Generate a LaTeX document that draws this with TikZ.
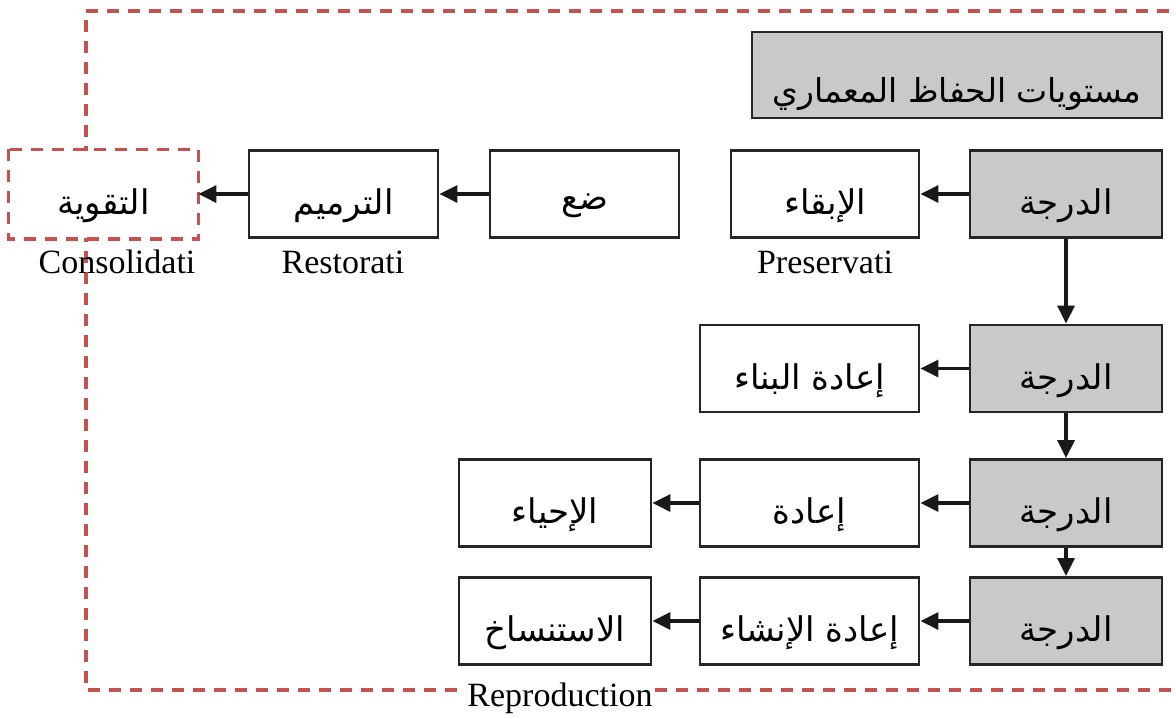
\documentclass[tikz,border=0pt]{standalone}
\usepackage{fontspec}
\setmainfont{Liberation Serif}
\newfontfamily\arabicfont[Script=Arabic]{DejaVu Sans}
\TeXXeTstate=1
\usetikzlibrary{arrows.meta}
\definecolor{framered}{RGB}{196,82,80}
\definecolor{boxgray}{RGB}{200,201,203}
\newcommand\artext[2][12pt]{\raisebox{-#1}[\height][\depth]{\beginR #2\endR}}
\tikzset{
  box/.style={draw=black!85, line width=2.8pt, fill=white, minimum height=87pt, inner sep=0pt, font=\arabicfont\fontsize{34}{38}\selectfont},
  graybox/.style={box, fill=boxgray, minimum width=192pt},
  redframe/.style={draw=framered, line width=3.2pt, dash pattern=on 12pt off 9pt},
  conn/.style={line width=3.2pt, black!90, -{Triangle[length=18pt,width=17pt]}},
  eng/.style={font=\fontsize{34}{38}\selectfont, inner sep=1pt}
}
\begin{document}
\begin{tikzpicture}[x=1pt,y=-1pt]
\useasboundingbox (0,0) rectangle (1176,718);
% outer dashed frame
\coordinate (ftr) at (1190,11);
\coordinate (ftl) at (86,11);
\coordinate (fbl) at (86,690);
\coordinate (fbr) at (1190,690);
\draw[redframe] (ftr) -- (ftl) -- (fbl) -- (fbr);
% title
\node[box, fill=boxgray, minimum width=410pt, minimum height=86pt, font=\arabicfont\fontsize{33}{38}\selectfont] (title) at (957,75) {\artext[19pt]{مستويات الحفاظ المعماري}};
% row 1
\node[box, draw=none, minimum width=187pt] (cons) at (103.5,194) {\artext{التقوية}};
\draw[redframe] (cons.north west) rectangle (cons.south east);
\node[box, minimum width=189pt] (rest) at (343.5,194) {\artext{الترميم}};
\node[box, minimum width=189pt] (daa) at (584.5,194) {\artext{ضع}};
\node[box, minimum width=188pt] (pres) at (825,194) {\artext{الإبقاء}};
\node[graybox] (g1) at (1066,194) {\artext{الدرجة}};
% row 2
\node[box, minimum width=219pt] (r2) at (809.5,368.5) {\artext{إعادة البناء}};
\node[graybox] (g2) at (1066,368.5) {\artext{الدرجة}};
% row 3
\node[box, minimum width=192pt] (a3) at (555,503) {\artext{الإحياء}};
\node[box, minimum width=219pt] (b3) at (809.5,503) {\artext{إعادة}};
\node[graybox] (g3) at (1066,503) {\artext{الدرجة}};
% row 4
\node[box, minimum width=192pt] (a4) at (555,621) {\artext{الاستنساخ}};
\node[box, minimum width=219pt] (b4) at (809.5,621) {\artext{إعادة الإنشاء}};
\node[graybox] (g4) at (1066,621) {\artext{الدرجة}};
% labels
\node[eng] (lcons) at (117,262) {Consolidati};
\node[eng] (lrest) at (343,262) {Restorati};
\node[eng] (lpres) at (825,262) {Preservati};
\node[eng, fill=white] (lrep) at (560,698) {Reproduction};
% connectors
\draw[conn] (g1.west) -- (pres.east);
\draw[conn] (daa.west) -- (rest.east);
\draw[conn] (rest.west) -- (cons.east);
\draw[conn] (g1.south) -- (g2.north);
\draw[conn] (g2.south) -- (g3.north);
\draw[conn] (g3.south) -- (g4.north);
\draw[conn] (g2.west) -- (r2.east);
\draw[conn] (g3.west) -- (b3.east);
\draw[conn] (b3.west) -- (a3.east);
\draw[conn] (g4.west) -- (b4.east);
\draw[conn] (b4.west) -- (a4.east);
\end{tikzpicture}
\end{document}
